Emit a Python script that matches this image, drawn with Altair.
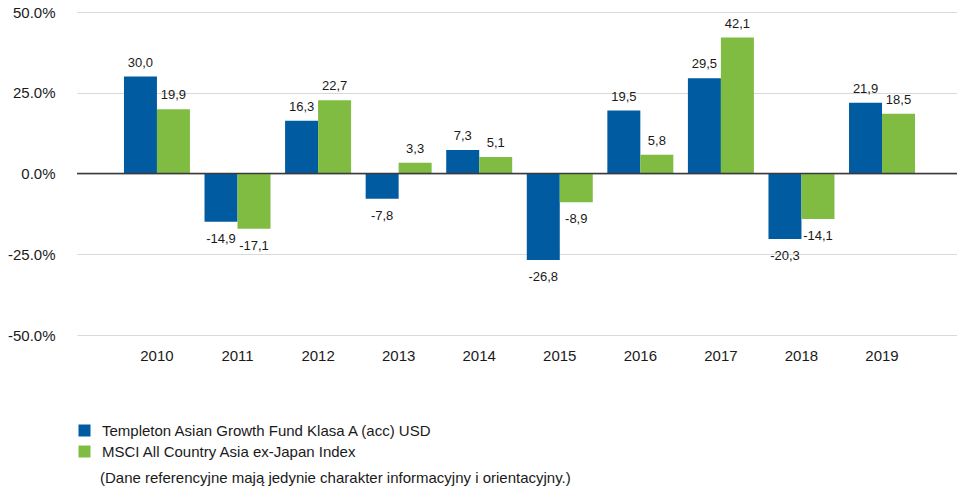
import altair as alt
import pandas as pd

years = ["2010", "2011", "2012", "2013", "2014", "2015", "2016", "2017", "2018", "2019"]
fund = [30.0, -14.9, 16.3, -7.8, 7.3, -26.8, 19.5, 29.5, -20.3, 21.9]
index = [19.9, -17.1, 22.7, 3.3, 5.1, -8.9, 5.8, 42.1, -14.1, 18.5]
series_names = ["Templeton Asian Growth Fund Klasa A (acc) USD",
                "MSCI All Country Asia ex-Japan Index"]
colors = ["#005BA0", "#80BC42"]
y_ticks = [-50, -25, 0, 25, 50]
footnote = "(Dane referencyjne mają jedynie charakter informacyjny i orientacyjny.)"

rows = []
for y, a, b in zip(years, fund, index):
    rows.append({"year": y, "series": series_names[0], "value": a})
    rows.append({"year": y, "series": series_names[1], "value": b})
df = pd.DataFrame(rows)

FONT = "Liberation Sans"

xenc = alt.X("year:N", sort=years, title=None,
             scale=alt.Scale(paddingInner=0.181, paddingOuter=0.552, align=0.528),
             axis=alt.Axis(labelAngle=0, ticks=False, domain=False, labelFontSize=15,
                           labelFont=FONT, labelColor="#1a1a1a", labelPadding=13))
xoff = alt.XOffset("series:N", sort=series_names, scale=alt.Scale(paddingInner=0, paddingOuter=0))
yscale = alt.Scale(domain=[-50, 50], nice=False)

base = alt.Chart(df)

bars = base.mark_bar().encode(
    x=xenc,
    xOffset=xoff,
    y=alt.Y("value:Q", scale=yscale, title=None,
            axis=alt.Axis(values=y_ticks,
                          labelExpr="replace(format(datum.value, '.1f'), '\u2212', '-') + '%'",
                          ticks=False, domain=False, gridColor="#d9d9d9", labelFontSize=15,
                          labelFont=FONT, labelColor="#1a1a1a", labelPadding=22)),
    color=alt.Color("series:N", sort=series_names,
                    scale=alt.Scale(domain=series_names, range=colors),
                    legend=alt.Legend(title=None, orient="none", legendX=0, legendY=411,
                                      direction="vertical", symbolType="square",
                                      symbolSize=144, symbolStrokeWidth=0,
                                      labelFontSize=15, labelFont=FONT, labelColor="#1a1a1a",
                                      labelOffset=10, rowPadding=5, padding=0,
                                      labelLimit=600)),
)

zero = alt.Chart(pd.DataFrame({"z": [0]})).mark_rule(color="#3a3a3a", strokeWidth=1.3).encode(
    y=alt.Y("z:Q", scale=yscale)
)

label_expr = "replace(replace(format(datum.value, '.1f'), '.', ','), '\u2212', '-')"

pos_text = base.transform_filter("datum.value >= 0").transform_calculate(
    lab=label_expr
).mark_text(baseline="bottom", dy=-7, fontSize=13, font=FONT, color="#1a1a1a").encode(
    x=alt.X("year:N", sort=years), xOffset=alt.XOffset("series:N", sort=series_names),
    y=alt.Y("value:Q", scale=yscale), text="lab:N"
)

neg_text = base.transform_filter("datum.value < 0").transform_calculate(
    lab=label_expr
).mark_text(baseline="top", dy=11, fontSize=13, font=FONT, color="#1a1a1a").encode(
    x=alt.X("year:N", sort=years), xOffset=alt.XOffset("series:N", sort=series_names),
    y=alt.Y("value:Q", scale=yscale), text="lab:N"
)

note = alt.Chart(pd.DataFrame({"t": [footnote]})).mark_text(
    align="left", baseline="middle", fontSize=15, font=FONT, color="#1a1a1a"
).encode(x=alt.value(23), y=alt.value(466), text="t:N")

chart = alt.layer(bars, zero, pos_text, neg_text, note).properties(
    width=880, height=323,
    autosize=alt.AutoSizeParams(type="none"),
    padding={"left": 77, "top": 12, "right": 0, "bottom": 154},
).configure_view(stroke=None)

chart.save("out.html", embed_options={"renderer": "svg", "actions": False})
